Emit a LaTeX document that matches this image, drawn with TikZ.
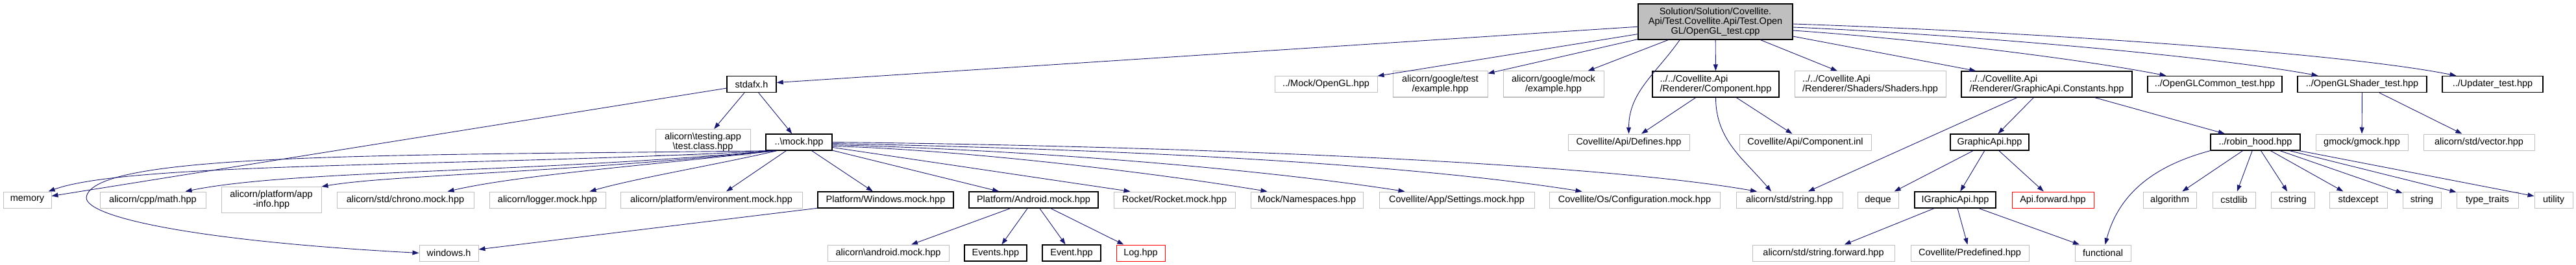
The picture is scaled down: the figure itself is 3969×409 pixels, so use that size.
\documentclass[tikz,border=0pt]{standalone}
\usepackage{fontspec}
\setmainfont{Liberation Sans}
\usetikzlibrary{arrows.meta}
\definecolor{edgeblue}{HTML}{191970}
\definecolor{boxgrey}{HTML}{BFBFBF}
\tikzset{
  file/.style={draw, inner sep=1pt, minimum height=25pt, align=center,
    font=\fontsize{14.5}{15}\selectfont},
  docfile/.style={file, draw=black, line width=1.3pt},
  extfile/.style={file, draw=boxgrey, line width=1pt},
  missfile/.style={file, draw=red, line width=1pt},
  rootfile/.style={file, draw=black, fill=boxgrey, line width=1.3pt},
  twoline/.style={minimum height=40pt},
  dep/.style={edgeblue, line width=0.9pt, -{Triangle[length=10pt,width=7pt]}},
}
\begin{document}
\begin{tikzpicture}[x=1pt,y=-1pt]
  \useasboundingbox (0,0) rectangle (3969,409);
  % top
  \node[rootfile, minimum width=238pt, minimum height=55pt] (root) at (2643,33.5)
    {Solution/Solution/Covellite.\\Api/Test.Covellite.Api/Test.Open\\GL/OpenGL\_test.cpp};
  % first row
  \node[docfile, minimum width=76pt] (stdafx) at (1158,130) {stdafx.h};
  \node[extfile, minimum width=158pt] (mockgl) at (2043,130) {../Mock/OpenGL.hpp};
  \node[extfile, twoline, minimum width=146pt] (gtest) at (2219,130) {alicorn/google/test\\/example.hpp};
  \node[extfile, twoline, minimum width=155pt] (gmockex) at (2393.5,130) {alicorn/google/mock\\/example.hpp};
  \node[docfile, twoline, minimum width=195pt, align=left] (component) at (2643.5,130) {../../Covellite.Api\\/Renderer/Component.hpp};
  \node[extfile, twoline, minimum width=233pt, align=left] (shaders) at (2881.5,130) {../../Covellite.Api\\/Renderer/Shaders/Shaders.hpp};
  \node[docfile, twoline, minimum width=263pt, align=left] (constants) at (3153.5,130) {../../Covellite.Api\\/Renderer/GraphicApi.Constants.hpp};
  \node[docfile, minimum width=207pt] (common) at (3412.5,130) {../OpenGLCommon\_test.hpp};
  \node[docfile, minimum width=199pt] (shader) at (3639.5,130) {../OpenGLShader\_test.hpp};
  \node[docfile, minimum width=155pt] (updater) at (3840.5,130) {../Updater\_test.hpp};
  % second row
  \node[extfile, twoline, minimum width=146pt] (testing) at (1083,219.5) {alicorn\textbackslash testing.app\\\textbackslash test.class.hpp};
  \node[docfile, minimum width=102pt] (mock) at (1231,219.5) {..\textbackslash mock.hpp};
  \node[extfile, minimum width=187pt] (defines) at (2509.5,219.5) {Covellite/Api/Defines.hpp};
  \node[extfile, minimum width=203pt] (inl) at (2781.5,219.5) {Covellite/Api/Component.inl};
  \node[docfile, minimum width=121pt] (gapi) at (3065.5,219.5) {GraphicApi.hpp};
  \node[docfile, minimum width=138pt] (robin) at (3475,219.5) {../robin\_hood.hpp};
  \node[extfile, minimum width=142pt] (gmock) at (3639,219.5) {gmock/gmock.hpp};
  \node[extfile, minimum width=171pt] (vector) at (3819.5,219.5) {alicorn/std/vector.hpp};
  % third row
  \node[extfile, minimum width=74pt] (memory) at (42,308.5) {memory};
  \node[extfile, minimum width=163pt] (math) at (235.5,308.5) {alicorn/cpp/math.hpp};
  \node[extfile, twoline, minimum width=154pt] (appinfo) at (418,308.5) {alicorn/platform/app\\-info.hpp};
  \node[extfile, minimum width=211pt] (chrono) at (624.5,308.5) {alicorn/std/chrono.mock.hpp};
  \node[extfile, minimum width=179pt] (logger) at (843.5,308.5) {alicorn/logger.mock.hpp};
  \node[extfile, minimum width=280pt] (environment) at (1096,308.5) {alicorn/platform/environment.mock.hpp};
  \node[docfile, minimum width=209pt] (winmock) at (1364.5,308.5) {Platform/Windows.mock.hpp};
  \node[docfile, minimum width=199pt] (androidmock) at (1592.5,308.5) {Platform/Android.mock.hpp};
  \node[extfile, minimum width=187pt] (rocket) at (1809.5,308.5) {Rocket/Rocket.mock.hpp};
  \node[extfile, minimum width=173pt] (namespaces) at (2013.5,308.5) {Mock/Namespaces.hpp};
  \node[extfile, minimum width=239pt] (settings) at (2244.5,308.5) {Covellite/App/Settings.mock.hpp};
  \node[extfile, minimum width=263pt] (configuration) at (2518.5,308.5) {Covellite/Os/Configuration.mock.hpp};
  \node[extfile, minimum width=164pt] (string) at (2757,308.5) {alicorn/std/string.hpp};
  \node[extfile, minimum width=63pt] (deque) at (2893.5,308.5) {deque};
  \node[docfile, minimum width=125pt] (igapi) at (3012.5,308.5) {IGraphicApi.hpp};
  \node[missfile, minimum width=126pt] (apifwd) at (3163,308.5) {Api.forward.hpp};
  \node[extfile, minimum width=82pt] (algorithm) at (3343,308.5) {algorithm};
  \node[extfile, minimum width=66pt] (cstdlib) at (3442,308.5) {cstdlib};
  \node[extfile, minimum width=67pt] (cstring) at (3532.5,308.5) {cstring};
  \node[extfile, minimum width=89pt] (stdexcept) at (3633.5,308.5) {stdexcept};
  \node[extfile, minimum width=59pt] (stdstring) at (3731.5,308.5) {string};
  \node[extfile, minimum width=95pt] (typetraits) at (3832.5,308.5) {type\_traits};
  \node[extfile, minimum width=59pt] (utility) at (3934.5,308.5) {utility};
  % bottom row
  \node[extfile, minimum width=91pt] (windows) at (691.5,390.5) {windows.h};
  \node[extfile, minimum width=187pt] (androidh) at (1368.5,390.5) {alicorn\textbackslash android.mock.hpp};
  \node[docfile, minimum width=96pt] (events) at (1534,390.5) {Events.hpp};
  \node[docfile, minimum width=90pt] (event) at (1651,390.5) {Event.hpp};
  \node[missfile, minimum width=75pt] (log) at (1757.5,390.5) {Log.hpp};
  \node[extfile, minimum width=219pt] (strfwd) at (2809.5,390.5) {alicorn/std/string.forward.hpp};
  \node[extfile, minimum width=182pt] (predefined) at (3035,390.5) {Covellite/Predefined.hpp};
  \node[extfile, minimum width=86pt] (functional) at (3240,390.5) {functional};

  % includes of the test file
  \draw[dep] (root) -- (stdafx);
  \draw[dep] (root) -- (mockgl);
  \draw[dep] (root) -- (gtest);
  \draw[dep] (root) -- (gmockex);
  \draw[dep] ([xshift=-55pt]root.south) to[out=-125,in=90] (defines);
  \draw[dep] (root) -- (component);
  \draw[dep] (root) -- (shaders);
  \draw[dep] (root) -- (constants);
  \draw[dep] ([yshift=-13.5pt]root.east) .. controls (2950,60) and (3200,90) .. ([xshift=-75pt]common.north);
  \draw[dep] ([yshift=-8.5pt]root.east) .. controls (3000,52) and (3400,85) .. ([xshift=-68pt]shader.north);
  \draw[dep] ([yshift=-3.5pt]root.east) .. controls (3100,48) and (3600,80) .. ([xshift=-56pt]updater.north);
  % stdafx.h
  \draw[dep] (stdafx) -- (memory);
  \draw[dep] (stdafx) -- (testing);
  \draw[dep] (stdafx) -- (mock);
  % mock.hpp
  \draw[dep] ([xshift=15pt]mock.south west) .. controls (600,240) and (140,235) .. (133,305)
    .. controls (133,335) and (300,372) .. (windows.west);
  \draw[dep] ([xshift=10pt]mock.south west) .. controls (700,258) and (200,250) .. ([xshift=-5pt]memory.north east);
  \draw[dep] ([xshift=12pt]mock.south west) .. controls (800,268) and (450,262) .. ([xshift=50pt]math.north);
  \draw[dep] ([xshift=14pt]mock.south west) .. controls (850,268) and (600,270) .. (appinfo.north east);
  \draw[dep] ([xshift=16pt]mock.south west) .. controls (1000,255) and (800,270) .. ([xshift=65pt]chrono.north);
  \draw[dep] ([xshift=18pt]mock.south west) .. controls (1100,255) and (980,275) .. ([xshift=65pt]logger.north);
  \draw[dep] ([xshift=32pt]mock.south west) -- ([xshift=23pt]environment.north);
  \draw[dep] (mock) -- (winmock);
  \draw[dep] (mock) -- (androidmock);
  \draw[dep] ([yshift=-8pt]mock.east) -- ([xshift=-68pt]rocket.north);
  \draw[dep] ([yshift=-6pt]mock.east) .. controls (1500,232) and (1800,270) .. ([xshift=-61pt]namespaces.north);
  \draw[dep] ([yshift=-4pt]mock.east) .. controls (1600,232) and (1950,262) .. ([xshift=-80pt]settings.north);
  \draw[dep] ([yshift=-2pt]mock.east) .. controls (1700,230) and (2150,250) .. ([xshift=-81pt]configuration.north);
  \draw[dep] (mock.east) .. controls (1800,225) and (2450,250) .. ([xshift=-50pt]string.north);
  % platform mocks
  \draw[dep] (winmock) -- (windows);
  \draw[dep] (androidmock) -- (androidh);
  \draw[dep] (androidmock) -- (events);
  \draw[dep] (androidmock) -- (event);
  \draw[dep] (androidmock) -- (log);
  % renderer
  \draw[dep] (component) -- (defines);
  \draw[dep] (component.south) to[out=-90,in=130] ([xshift=-28pt]string.north);
  \draw[dep] (component) -- (inl);
  \draw[dep] (constants) -- (string);
  \draw[dep] (constants) -- (gapi);
  \draw[dep] (constants) -- (robin);
  \draw[dep] (gapi) -- (deque);
  \draw[dep] (gapi) -- (igapi);
  \draw[dep] (gapi) -- (apifwd);
  \draw[dep] (igapi) -- (strfwd);
  \draw[dep] (igapi) -- (predefined);
  \draw[dep] (igapi) -- (functional);
  % robin_hood
  \draw[dep] (robin.south west) to[out=195,in=75] (functional);
  \draw[dep] (robin) -- (algorithm);
  \draw[dep] (robin) -- (cstdlib);
  \draw[dep] (robin) -- (cstring);
  \draw[dep] (robin) -- (stdexcept);
  \draw[dep] (robin) -- (stdstring);
  \draw[dep] (robin) -- (typetraits);
  \draw[dep] (robin) -- (utility);
  % shader test
  \draw[dep] (shader) -- (gmock);
  \draw[dep] (shader) -- (vector);
\end{tikzpicture}
\end{document}
